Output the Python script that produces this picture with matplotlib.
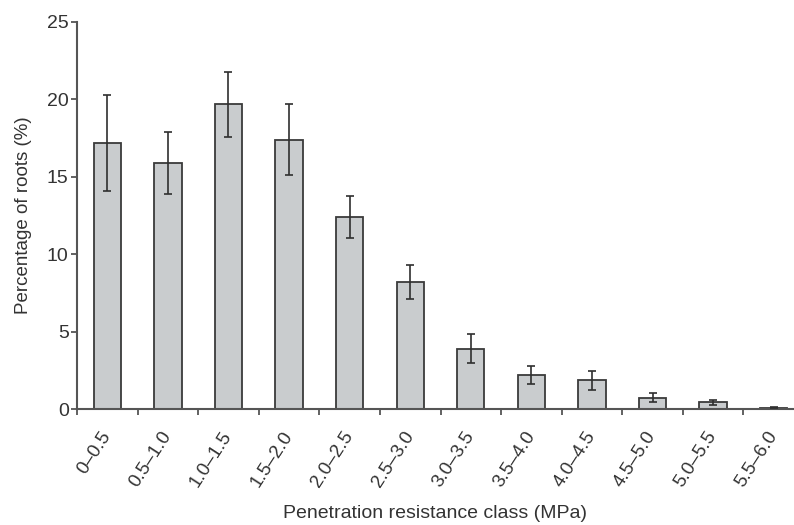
import matplotlib.pyplot as plt
import numpy as np

# penetration resistance classes (MPa)
classes = ["0–0.5", "0.5–1.0", "1.0–1.5", "1.5–2.0", "2.0–2.5", "2.5–3.0",
           "3.0–3.5", "3.5–4.0", "4.0–4.5", "4.5–5.0", "5.0–5.5", "5.5–6.0"]
pct_roots = [17.2, 15.9, 19.7, 17.4, 12.4, 8.2, 3.9, 2.2, 1.85, 0.72, 0.42, 0.08]
err = [3.1, 2.0, 2.1, 2.3, 1.35, 1.1, 0.95, 0.6, 0.63, 0.3, 0.16, 0.04]

plt.rcParams['font.family'] = ['Liberation Sans', 'DejaVu Sans']
text_col = '#333333'
axis_col = '#555555'

fig = plt.figure(figsize=(7.94, 5.25), dpi=100)
ax = fig.add_axes([77 / 794, 1 - 409 / 525, 727 / 794, 387 / 525])

x = np.arange(len(classes))
ax.bar(x, pct_roots, width=0.45, color='#c9ccce', edgecolor='#3a3a3a',
       linewidth=1.3, zorder=2)
ax.errorbar(x, pct_roots, yerr=err, fmt='none', ecolor='#2f2f2f',
            elinewidth=1.2, capsize=3, capthick=1.2, zorder=3)

ax.set_xlim(-0.5, len(classes) - 0.5)
ax.set_ylim(0, 25)
ax.set_yticks([0, 5, 10, 15, 20, 25])

# labels under the bars, tick marks between the classes
ax.set_xticks(x)
ax.set_xticklabels(classes, rotation=57, ha='right', va='center',
                   rotation_mode='anchor', fontsize=13.5, color=text_col)
ax.set_xticks(np.arange(-0.5, len(classes), 1.0), minor=True)
ax.tick_params(axis='x', which='major', length=0, pad=17)
ax.tick_params(axis='x', which='minor', length=4, width=1.3, color=axis_col,
               direction='out')
ax.tick_params(axis='y', length=4, width=1.3, color=axis_col,
               labelsize=14, labelcolor=text_col, pad=2)

for s in ['top', 'right']:
    ax.spines[s].set_visible(False)
for s in ['left', 'bottom']:
    ax.spines[s].set_color(axis_col)
    ax.spines[s].set_linewidth(1.5)

ax.set_ylabel('Percentage of roots (%)', fontsize=13.5, color=text_col, labelpad=11)
ax.set_xlabel('Penetration resistance class (MPa)', fontsize=14,
              color=text_col, va='center')
ax.xaxis.set_label_coords(0.492, -0.269)

fig.savefig('out.png', dpi=100, facecolor='white')
